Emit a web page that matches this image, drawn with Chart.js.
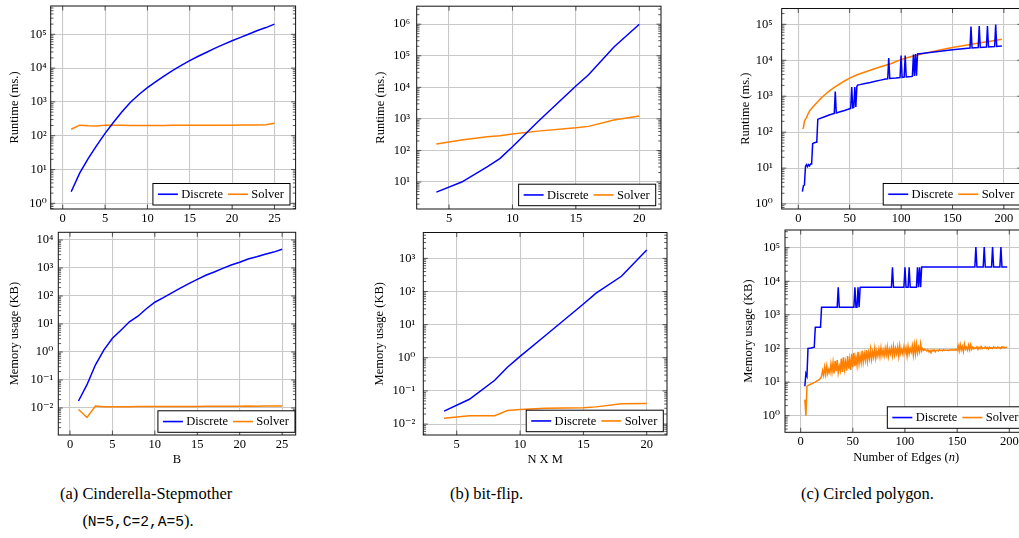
<!DOCTYPE html>
<html><head><meta charset="utf-8">
<script src="https://cdn.jsdelivr.net/npm/chart.js@4.4.1/dist/chart.umd.min.js"></script>
<style>
html,body{margin:0;padding:0;background:#fff;overflow:hidden;width:1019px;height:538px;position:relative}
canvas{position:absolute}
.cap{position:absolute;font-family:"Liberation Serif","Times New Roman",Times,"DejaVu Serif","Noto Serif",serif;font-size:17.5px;line-height:27px;white-space:nowrap;color:#000;display:flex;transform:scaleX(0.94);transform-origin:0 0}
.tt{font-family:"Liberation Mono","DejaVu Sans Mono",monospace;font-size:15.5px}
</style></head><body>
<div class="cap" style="left:60px;top:480px"><span>(a)&nbsp;</span><span>Cinderella-Stepmother<br>(<span class="tt">N=5,C=2,A=5</span>).</span></div>
<div class="cap" style="left:450px;top:480px"><span>(b) bit-flip.</span></div>
<div class="cap" style="left:801px;top:480px"><span>(c) Circled polygon.</span></div>
<script>
// ---------------- DATA ----------------
const seriesNames = ['Discrete', 'Solver'];
const seriesColors = ['#0000ff', '#ff8000'];

// (a) Cinderella-Stepmother
const aX = [1,2,3,4,5,6,7,8,9,10,11,12,13,14,15,16,17,18,19,20,21,22,23,24,25];
const aRunDiscrete = [2.2,7.8,21,51,117,251,513,977,1660,2630,3980,5890,8510,12000,16600,22400,29500,38900,50100,64600,81300,102000,129000,158000,200000];
const aRunSolver = [155,205,198,195,202,203,202,201,200,200,200,201,202,202,203,203,204,204,205,205,206,207,208,210,235];
const aMemDiscrete = [0.0178,0.068,0.35,1.2,3.1,6,12,19,35,60,87,130,190,275,390,550,720,970,1280,1600,2100,2520,3080,3700,4650];
const aMemSolver = [0.0089,0.0046,0.0118,0.0112,0.0112,0.0112,0.0112,0.0113,0.0113,0.0113,0.0113,0.0114,0.0114,0.0114,0.0114,0.0115,0.0115,0.0115,0.0116,0.0116,0.0117,0.0116,0.0117,0.0117,0.0118];

// (b) bit-flip  (N x M)
const bX = [4,6,8,9,10,12,15,16,18,20];
const bRunDiscrete = [4.8,10,30,55,131,810,11000,25000,190000,1000000];
const bRunSolver = [160,213,270,292,330,410,520,580,920,1230];
const bMemDiscrete = [0.0245,0.056,0.21,0.52,1.1,4.7,42,89,288,1780];
const bMemSolver = [0.015,0.0178,0.0178,0.0257,0.0275,0.030,0.031,0.033,0.041,0.042];

// (c) Circled polygon
const cRunDiscreteX = [4,5,6,7,8,9,10,11,12,13,14,15,16,17,18,19,20,25,30,35,36,37,40,45,50,51,52,53,54,55,56,57,58,60,65,70,75,80,85,87,88,89,95,99,100,101,103,104,105,110,111,112,113,114,115,116,120,130,140,150,160,167,168,169,175,176,177,183,184,185,191,192,193,198];
const cRunDiscreteY = [2.2,3.2,3.4,11,12.5,11,12.5,11.5,13,13,48,50,51,52,52,225,235,265,300,330,1350,340,365,400,450,460,1800,480,490,1800,500,1900,2050,2100,2250,2400,2600,2800,3000,3050,11500,3100,3200,3300,13500,3350,3400,13500,3450,3550,3600,14500,3650,15000,3700,15000,15500,16800,18200,19600,21000,22000,87000,22100,22600,89000,22700,23200,90000,23300,24000,98000,24100,24800];
const cRunSolverX = [4,5,6,7,8,9,10,11,12,14,16,18,20,22,25,30,35,40,45,50,55,60,70,80,90,100,110,120,130,140,150,160,170,180,190,198];
const cRunSolverY = [125,130,200,230,250,300,340,390,420,490,570,660,760,870,1050,1380,1750,2150,2650,3200,3700,4200,5300,6600,8000,10500,12800,15000,17300,19800,22500,25500,28500,31500,35000,38500];
const cMemDiscreteX = [4,5,6,7,10,13,14,19,20,35,36,37,51,52,53,54,55,56,57,58,87,88,89,99,100,101,103,104,105,111,112,113,114,115,116,167,168,169,175,176,177,183,184,185,191,192,193,198];
const cMemDiscreteY = [7.5,18,15,100,103,110,430,430,1700,1700,6600,1700,1700,6600,1700,1700,6600,1700,6600,6700,6700,26000,6700,6700,26000,6700,6700,26000,6700,6700,26000,6700,26000,6700,26500,26500,105000,26500,26500,105000,26500,26500,105000,26500,26500,105000,26500,26500];
const cMemSolverX = [4,5,6,7,8,9,10,11,12,13,14,15,16,17,18,19,
20,21,22,23,24,25,26,27,28,29,30,31,32,33,34,35,36,37,38,39,40,41,42,43,44,45,46,47,48,49,
50,51,52,53,54,55,56,57,58,59,60,61,62,63,64,65,66,67,68,69,70,71,72,73,74,75,76,77,78,79,
80,81,82,83,84,85,86,87,88,89,90,91,92,93,94,95,96,97,98,99,100,101,102,103,104,105,106,107,108,109,
110,111,112,113,114,115,116,117,118,119,120,121,122,123,124,125,126,127,128,129,130,131,132,133,134,135,136,137,138,139,
140,141,142,143,144,145,146,147,148,149,150,151,152,153,154,155,156,157,158,159,160,161,162,163,164,165,166,167,168,169,
170,171,172,173,174,175,176,177,178,179,180,181,182,183,184,185,186,187,188,189,190,191,192,193,194,195,196,197,198];
const cMemSolverY = [3,1,7.5,8,8.2,8.5,8.8,9,9.3,9.8,10,10.5,11,11.5,12,13,
15,22,16,28,17,30,18,24,19,35, 20,38,18,42,21,45,19,30,22,50, 20,55,24,40,22,60,25,48,23,70,
28,75,30,55,32,80,35,60,38,85, 40,70,45,90,42,75,50,95,48,80, 55,100,52,85,60,95,58,105,62,90,
60,100,65,110,58,95,70,105,62,115, 65,100,70,110,60,120,72,95,68,110, 75,105,60,115,70,100,78,120,65,130,
70,135,75,110,80,140,85,100,88,95, 90,85,92,80,88,75,90,85,92,80, 88,90,85,92,88,90,86,92,88,90,
89,90,88,91,90,92,89,91,90,93, 88,120,85,130,90,115,82,135,95,110, 90,125,92,130,95,110,98,105,100,112,
95,108,100,115,98,105,102,112,100,108, 98,110,102,106,100,112,104,108,102,110, 104,108,100,112,106,110,104,108,110];

// tick values
const aXTicks = [0,5,10,15,20,25];
const bXTicks = [5,10,15,20];
const cXTicks = [0,50,100,150,200];
const aRunYExp = [0,1,2,3,4,5];
const aMemYExp = [-2,-1,0,1,2,3,4];
const bRunYExp = [1,2,3,4,5,6];
const bMemYExp = [-2,-1,0,1,2,3];
const cRunYExp = [0,1,2,3,4,5];
const cMemYExp = [0,1,2,3,4,5];

// ---------------- RENDER ----------------
const FAM = '"Liberation Serif", "Times New Roman", Times, "DejaVu Serif", "Noto Serif", serif';
Chart.defaults.font.family = FAM;
Chart.defaults.color = '#000';
const FS = 12.5;
const SUP = {'0':'\u2070','1':'\u00b9','2':'\u00b2','3':'\u00b3','4':'\u2074','5':'\u2075','6':'\u2076','7':'\u2077','8':'\u2078','9':'\u2079','-':'\u207b'};
function pow10Label(v){ const e = Math.round(Math.log10(v)); return '10' + String(e).split('').map(c => SUP[c]).join(''); }

const pgfPlugin = {
  id: 'pgf',
  afterDraw(chart, args, o) {
    const ctx = chart.ctx, a = chart.chartArea;
    const xs = chart.scales.x, ys = chart.scales.y;
    ctx.save();
    ctx.strokeStyle = '#333'; ctx.lineWidth = 0.8;
    ctx.beginPath();
    xs.ticks.forEach(t => {
      const px = xs.getPixelForValue(t.value);
      ctx.moveTo(px, a.bottom); ctx.lineTo(px, a.bottom - 4.5);
      ctx.moveTo(px, a.top); ctx.lineTo(px, a.top + 4.5);
    });
    const e0 = Math.floor(Math.log10(ys.min)), e1 = Math.ceil(Math.log10(ys.max));
    for (let e = e0; e <= e1; e++) {
      for (let k = 1; k <= 9; k++) {
        const v = k * Math.pow(10, e);
        if (v <= ys.min || v >= ys.max) continue;
        const py = ys.getPixelForValue(v);
        const len = k === 1 ? 4.5 : 2.8;
        ctx.moveTo(a.left, py); ctx.lineTo(a.left + len, py);
        ctx.moveTo(a.right, py); ctx.lineTo(a.right - len, py);
      }
    }
    ctx.stroke();
    ctx.strokeStyle = '#111'; ctx.lineWidth = 1;
    ctx.strokeRect(a.left, a.top, a.right - a.left, a.bottom - a.top);

    // x-axis title (mixed upright / italic)
    if (o.xTitle) {
      const parts = o.xTitle;
      let w = 0;
      parts.forEach(p => { ctx.font = (p.i ? 'italic ' : '') + FS + 'px ' + FAM; w += ctx.measureText(p.t).width; });
      let x = (a.left + a.right) / 2 - w / 2;
      const y = a.bottom + o.xTitleDy;
      ctx.fillStyle = '#000'; ctx.textBaseline = 'middle'; ctx.textAlign = 'left';
      parts.forEach(p => { ctx.font = (p.i ? 'italic ' : '') + FS + 'px ' + FAM; ctx.fillText(p.t, x, y); x += ctx.measureText(p.t).width; });
    }

    // legend box
    ctx.font = FS + 'px ' + FAM;
    const ds = chart.data.datasets;
    const tw = ds.map(d => ctx.measureText(d.label).width);
    const bw = 5 + 20 + 3.4 + tw[0] + 5 + 20 + 3.4 + tw[1] + 6;
    const bh = 21.5;
    const bx = a.right - o.lgR - bw, by = a.bottom - o.lgB - bh;
    ctx.fillStyle = '#fff'; ctx.fillRect(bx, by, bw, bh);
    ctx.strokeStyle = '#000'; ctx.lineWidth = 1; ctx.strokeRect(bx, by, bw, bh);
    let cx = bx + 5; const cy = by + bh / 2;
    ds.forEach((d, i) => {
      ctx.strokeStyle = d.borderColor; ctx.lineWidth = 1.6;
      ctx.beginPath(); ctx.moveTo(cx, cy); ctx.lineTo(cx + 20, cy); ctx.stroke();
      cx += 23.4;
      ctx.fillStyle = '#000'; ctx.textBaseline = 'middle'; ctx.textAlign = 'left';
      ctx.fillText(d.label, cx, cy + 0.5);
      cx += tw[i] + 5;
    });
    ctx.restore();
  }
};

function panel(p, yTitle, yExps, xTicks, series, xTitle) {
  const cv = document.createElement('canvas');
  const ctop = Math.floor(p.t) - 14;
  const W = Math.ceil(p.r - p.cl) + 2;
  const H = Math.ceil(p.b + p.xh - ctop) + 1;
  cv.width = W; cv.height = H;
  cv.style.left = p.cl + 'px'; cv.style.top = ctop + 'px';
  cv.style.width = W + 'px'; cv.style.height = H + 'px';
  document.body.appendChild(cv);
  const gridOpt = { color: '#c9c9c9', lineWidth: 1.1, drawTicks: false };
  new Chart(cv, {
    type: 'line',
    data: { datasets: series.map(s => ({
      label: s.label, data: s.x.map((x, i) => ({ x: x, y: s.y[i] })),
      borderColor: s.color, backgroundColor: s.color, borderWidth: 1.5,
      pointRadius: 0, tension: 0, fill: false })) },
    options: {
      responsive: false, animation: false, devicePixelRatio: 1,
      layout: { autoPadding: false, padding: { left: 0, top: p.t - ctop, right: W - (p.r - p.cl), bottom: H - (p.b + p.xh - ctop) } },
      plugins: { legend: { display: false }, tooltip: { enabled: false },
        pgf: { lgR: p.lgR, lgB: p.lgB, xTitle: xTitle, xTitleDy: p.xTitleDy } },
      scales: {
        x: { type: 'linear', min: p.xmin, max: p.xmax, bounds: 'data',
          afterFit: s => { s.height = p.xh; },
          afterBuildTicks: s => { s.ticks = xTicks.map(v => ({ value: v })); },
          grid: gridOpt, border: { display: false },
          ticks: { color: '#000', font: { size: FS, family: FAM }, padding: p.xPad, autoSkip: false, maxRotation: 0, callback: v => String(v) } },
        y: { type: 'logarithmic', min: Math.pow(10, p.ylo), max: Math.pow(10, p.yhi), bounds: 'data',
          afterFit: s => { s.width = p.l - p.cl; },
          afterBuildTicks: s => { s.ticks = yExps.map(e => ({ value: Math.pow(10, e) })); },
          grid: gridOpt, border: { display: false },
          ticks: { color: '#000', font: { size: FS, family: FAM }, padding: p.yPad, autoSkip: false, callback: v => pow10Label(v) },
          title: { display: true, text: yTitle, color: '#000', font: { size: FS, family: FAM }, padding: { top: p.titlePad, bottom: 0 } } }
      }
    },
    plugins: [pgfPlugin]
  });
}

function two(x1, y1, x2, y2) {
  return [{ label: seriesNames[0], color: seriesColors[0], x: x1, y: y1 },
          { label: seriesNames[1], color: seriesColors[1], x: x2, y: y2 }];
}

const L = {
  aTop: { cl: 0, l: 50.7, t: 6, r: 295.6, b: 209, xh: 24, xPad: 2, yPad: 4, titlePad: 7.5, lgR: 5.6, lgB: 4, xmin: -1.42, xmax: 27.5, ylo: -0.169, yhi: 5.837 },
  aBot: { cl: 0, l: 58.3, t: 232.3, r: 295.7, b: 435, xh: 34, xPad: 2, yPad: 5, titlePad: 6.8, lgR: 0.7, lgB: 2.7, xmin: -1.38, xmax: 26.6, ylo: -2.964, yhi: 4.275, xTitleDy: 25 },
  bTop: { cl: 360, l: 416.7, t: 6, r: 661, b: 209, xh: 24, xPad: 2, yPad: 6.7, titlePad: 13.5, lgR: 5.3, lgB: 3.3, xmin: 2.45, xmax: 21.71, ylo: 0.146, yhi: 6.57 },
  bBot: { cl: 360, l: 423.3, t: 231.7, r: 667, b: 435, xh: 34, xPad: 2, yPad: 8, titlePad: 12.5, lgR: 3.7, lgB: 3.3, xmin: 2.36, xmax: 21.6, ylo: -2.33, yhi: 3.78, xTitleDy: 25 },
  cTop: { cl: 730, l: 781.7, t: 6.7, r: 1021.8, b: 209, xh: 24, xPad: 2, yPad: 9, titlePad: 7.8, lgR: 1.5, lgB: 4, xmin: -16.1, xmax: 217.4, ylo: -0.138, yhi: 5.44 },
  cBot: { cl: 730, l: 785, t: 230, r: 1027.4, b: 432.3, xh: 34, xPad: 2, yPad: 5, titlePad: 11.2, lgR: 3, lgB: 4, xmin: -15.05, xmax: 217.4, ylo: -0.494, yhi: 5.527, xTitleDy: 25.7 }
};

panel(L.aTop, 'Runtime (ms.)', aRunYExp, aXTicks, two(aX, aRunDiscrete, aX, aRunSolver), null);
panel(L.aBot, 'Memory usage (KB)', aMemYExp, aXTicks, two(aX, aMemDiscrete, aX, aMemSolver), [{ t: 'B', i: false }]);
panel(L.bTop, 'Runtime (ms.)', bRunYExp, bXTicks, two(bX, bRunDiscrete, bX, bRunSolver), null);
panel(L.bBot, 'Memory usage (KB)', bMemYExp, bXTicks, two(bX, bMemDiscrete, bX, bMemSolver), [{ t: 'N X M', i: false }]);
panel(L.cTop, 'Runtime (ms.)', cRunYExp, cXTicks, two(cRunDiscreteX, cRunDiscreteY, cRunSolverX, cRunSolverY), null);
panel(L.cBot, 'Memory usage (KB)', cMemYExp, cXTicks, two(cMemDiscreteX, cMemDiscreteY, cMemSolverX, cMemSolverY), [{ t: 'Number of Edges (', i: false }, { t: 'n', i: true }, { t: ')', i: false }]);
</script>
</body></html>
